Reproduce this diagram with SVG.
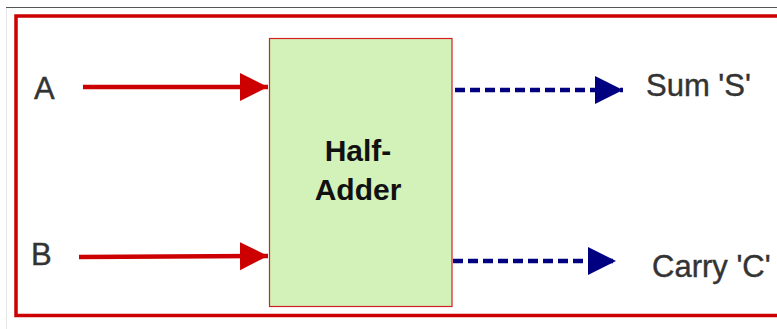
<svg xmlns="http://www.w3.org/2000/svg" width="777" height="329" viewBox="0 0 777 329">
<style>
.lbl{font-family:"Liberation Sans",Arial,sans-serif;font-size:31px;fill:#333;stroke:#333;stroke-width:0.4}
.title{font-family:"Liberation Sans",Arial,sans-serif;font-size:30px;font-weight:bold;fill:#111;text-anchor:middle}
.in{stroke:#cc0000;stroke-width:4.5;fill:none}
.out{stroke:#000080;stroke-width:4.5;fill:none;stroke-dasharray:10 5}
</style>
<defs>
<marker id="ra" markerUnits="userSpaceOnUse" markerWidth="30" markerHeight="30" refX="28" refY="14" orient="auto"><path d="M0,0 L28,14 L0,28 Z" fill="#cc0000"/></marker>
<marker id="ba" markerUnits="userSpaceOnUse" markerWidth="30" markerHeight="30" refX="28" refY="14" orient="auto"><path d="M0,0 L28,14 L0,28 Z" fill="#000080"/></marker>
</defs>
<rect width="777" height="329" fill="#fff"/>
<line x1="6" y1="7.5" x2="777" y2="7.5" stroke="#555" stroke-width="1"/>
<line x1="6.5" y1="8" x2="6.5" y2="329" stroke="#e8e8e8" stroke-width="1"/>
<rect id="frame" x="16" y="16" width="790" height="299.5" fill="none" stroke="#cc0000" stroke-width="3.5"/>
<g id="halfadder">
<rect x="269.5" y="38.5" width="182.5" height="268" fill="#d3f2b9" stroke="#d42020" stroke-width="1.2"/>
<text class="title" x="358" y="161">Half-</text>
<text class="title" x="358" y="200">Adder</text>
</g>
<g id="inputA"><text class="lbl" x="34" y="99">A</text></g>
<g id="inputB"><text class="lbl" x="31" y="265">B</text></g>
<g id="outS"><text class="lbl" x="646" y="96">Sum 'S'</text></g>
<g id="outC"><text class="lbl" x="652" y="277">Carry 'C'</text></g>
<g id="connectors">
<line class="in" x1="83" y1="87" x2="268" y2="87" marker-end="url(#ra)"/>
<line class="in" x1="79" y1="257" x2="268" y2="256" marker-end="url(#ra)"/>
<line class="out" x1="455" y1="90" x2="623" y2="90" marker-end="url(#ba)"/>
<line class="out" x1="453" y1="261" x2="616" y2="261" marker-end="url(#ba)"/>
</g>
</svg>
